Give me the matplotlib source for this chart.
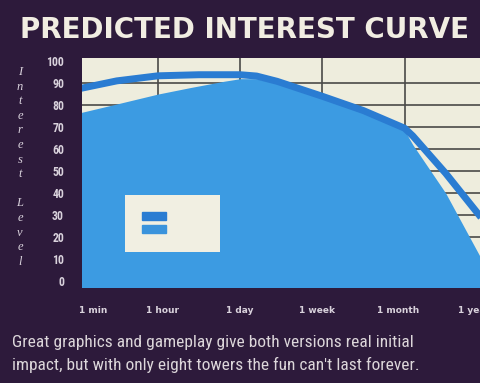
import matplotlib.pyplot as plt
from matplotlib import font_manager
from matplotlib.patches import Patch

# time scale: 0 = 1 min, 1 = 1 hour, 2 = 1 day, 3 = 1 week, 4 = 1 month, 5 = 1 year
time_labels = ["1 min", "1 hour", "1 day", "1 week", "1 month", "1 year"]
label_pos = [0.21, 1.06, 2.0, 2.93, 3.92, 4.84]
grid_x = [1, 2, 3, 4]
grid_y = [10, 20, 30, 40, 50, 60, 70, 80, 90]

# outer curve (thick line)
line_x = [0.05, 0.5, 1.0, 1.5, 2.0, 2.2, 2.45, 3.0, 3.5, 4.0, 4.1, 4.5, 4.95]
line_y = [87.5, 91.0, 93.3, 93.8, 93.8, 93.2, 90.8, 84.0, 77.5, 69.5, 66.0, 49.0, 28.0]

# inner curve (filled area)
fill_x = [0.05, 0.5, 1.0, 1.4, 1.8, 2.0, 2.2, 2.45, 3.0, 3.5, 4.0, 4.1, 4.5, 4.95]
fill_y = [76.5, 80.5, 85.0, 88.0, 90.8, 92.0, 92.0, 89.8, 83.0, 76.5, 68.5, 62.0, 40.0, 9.0]

caption_lines = ["Great graphics and gameplay give both versions real initial",
                 "impact, but with only eight towers the fun can't last forever."]

bg = "#2d1a3b"
paper = "#eeeddd"
light_blue = "#3c9be2"
dark_blue = "#2a7cd2"
pale_text = "#d9d2dc"

installed = {f.name for f in font_manager.fontManager.ttflist}
narrow = next((n for n in ["Liberation Sans Narrow", "DejaVu Sans Condensed",
                           "Roboto Condensed", "Roboto"] if n in installed),
              "DejaVu Sans")

fig = plt.figure(figsize=[4.81, 3.83], dpi=100, facecolor=bg)
ax = fig.add_axes([82 / 481, 1 - 287 / 383, 1 - 82 / 481, 229 / 383])
ax.set_facecolor(paper)

ax.set_xlim(0.077, 4.93)
ax.set_ylim(-2.7, 101.4)

for gx in grid_x:
    ax.axvline(gx, color="#4a4a48", lw=1.2, zorder=1)
for gy in grid_y:
    ax.axhline(gy, color="#4a4a48", lw=1.2, zorder=1)

ax.fill_between(fill_x, fill_y, -10, color=light_blue, lw=0, zorder=2)
ax.plot(line_x, line_y, color=dark_blue, lw=5, solid_capstyle="butt",
        solid_joinstyle="round", zorder=3)

ax.set_xticks(label_pos)
ax.set_xticklabels(time_labels)
ax.set_yticks(range(0, 101, 10))
ax.tick_params(length=0)
ax.tick_params(axis="x", pad=14, labelsize=6.5, labelcolor=pale_text)
ax.tick_params(axis="y", pad=13, labelsize=8.5, labelcolor=pale_text)
for t in ax.get_xticklabels():
    t.set_fontweight("bold")
for t in ax.get_yticklabels():
    t.set_family(narrow)
    t.set_fontweight("bold")

for s in ax.spines.values():
    s.set_visible(False)

# legend box with two bars and no text
handles = [Patch(color=dark_blue), Patch(color="#3a93dc")]
leg = ax.legend(handles, ["", ""], loc="upper left",
                bbox_to_anchor=(0.108, 0.153, 0.238, 0.249), mode="expand",
                borderaxespad=0, fontsize=8, borderpad=1.52, labelspacing=0.3,
                handlelength=2.2, handleheight=0.7, fancybox=False,
                framealpha=1, facecolor="#f1efe2", edgecolor="none")
leg.set_zorder(5)

fig.text(20 / 481, 1 - 38 / 383, "PREDICTED INTEREST CURVE", color="#f1ede2",
         fontsize=20.0, fontweight="bold", va="baseline", ha="left")

fig.text(20 / 481, 1 - 66 / 383, "\n".join("Interest") + "\n\n" + "\n".join("Level"),
         color=pale_text, fontsize=9, style="italic", family="Liberation Serif",
         ha="center", va="top", linespacing=1.29)

# caption under the chart, sized to span the panel width
caps = []
for i, line in enumerate(caption_lines):
    caps.append(fig.text(12 / 481, 1 - (347 + 23 * i) / 383, line, color="#dcd6da",
                         fontsize=12.5, family=narrow, ha="left", va="baseline"))
fig.canvas.draw()
r = fig.canvas.get_renderer()
w = caps[0].get_window_extent(r).width
for c in caps:
    c.set_fontsize(min(12.5, 12.5 * 458 / w))

fig.savefig("out.png", dpi=100, facecolor=bg)
